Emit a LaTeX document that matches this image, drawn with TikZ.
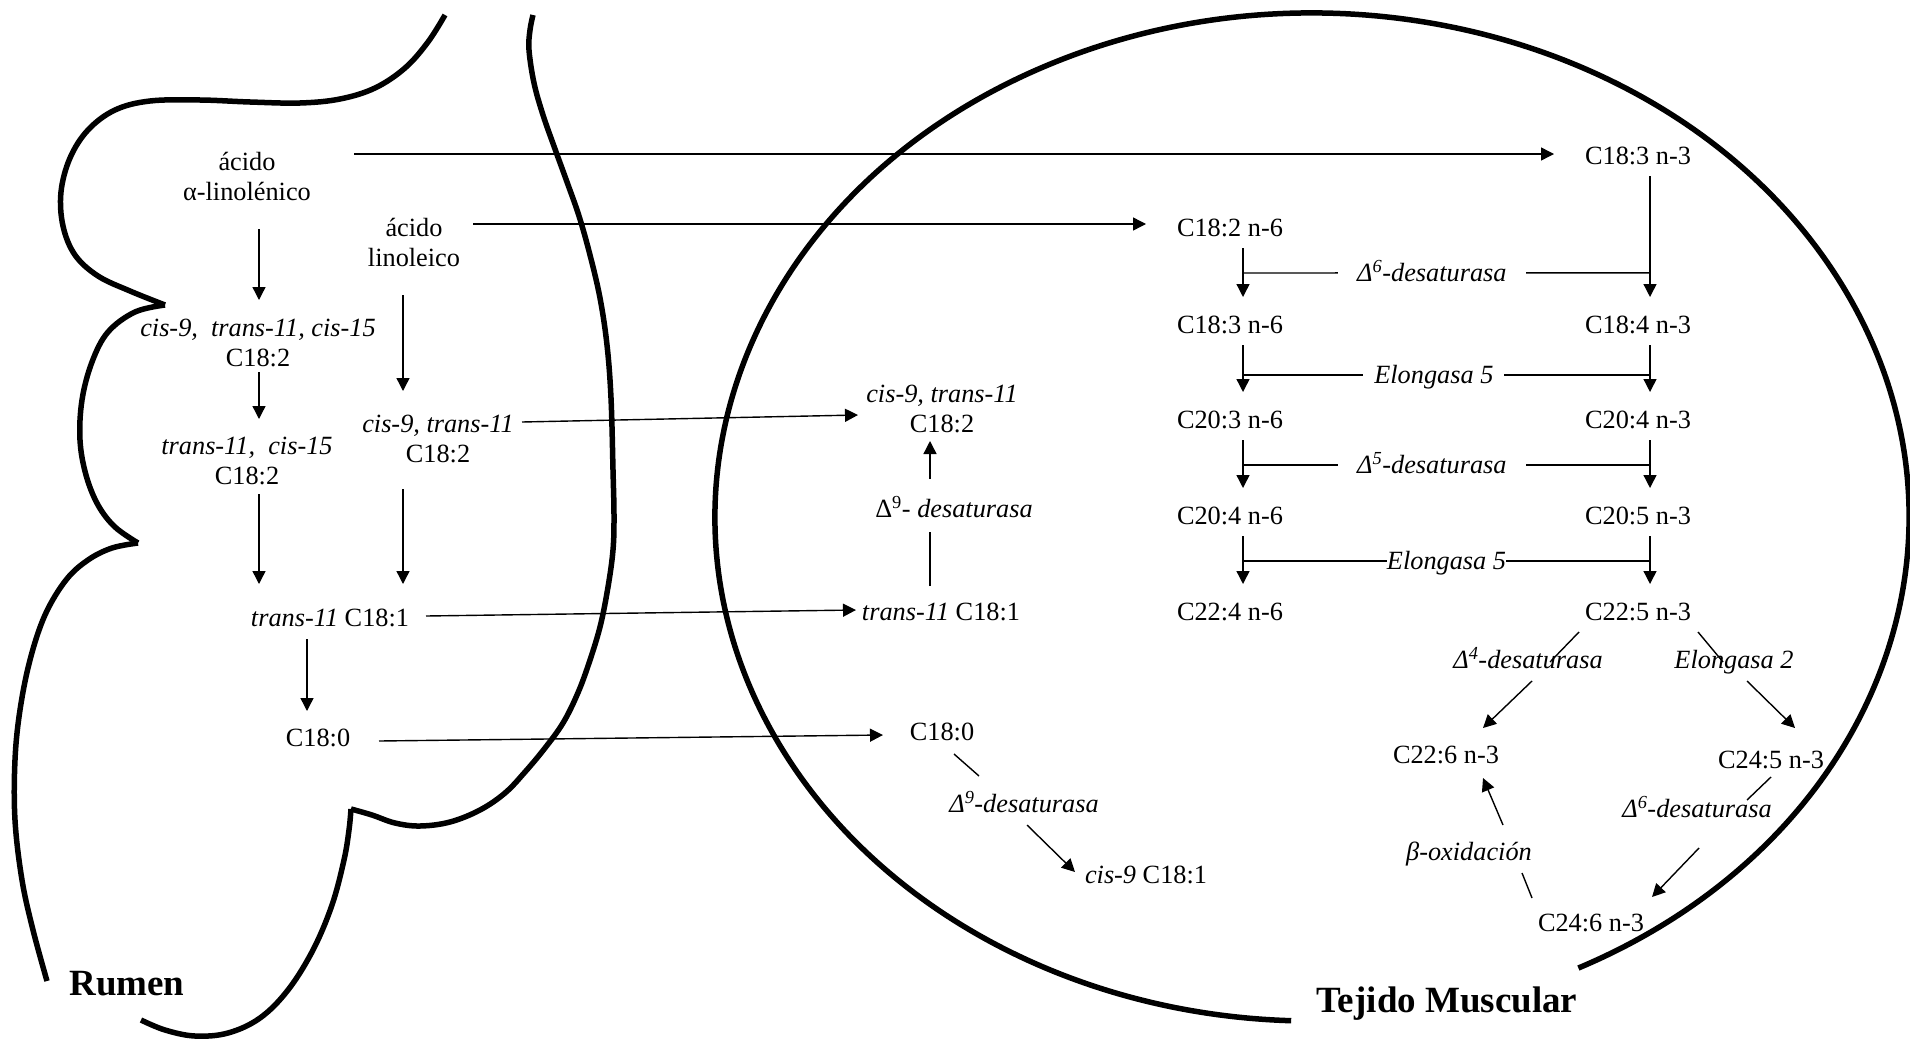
\documentclass[tikz,border=0pt]{standalone}
\usepackage{fontspec}
\setmainfont{Liberation Serif}
\usetikzlibrary{arrows.meta}
\newcommand\fs{\fontsize{26.3}{30}\selectfont}
\newcommand\fsb{\fontsize{37}{40}\selectfont\bfseries}
\begin{document}
\begin{tikzpicture}[x=1pt,y=-1pt,
  txt/.style={inner sep=0pt,outer sep=0pt,font=\fs,text height=20pt,text depth=3pt},
  two/.style={inner sep=0pt,outer sep=0pt,font=\fs,align=center},
  lbl/.style={txt,font=\fs\itshape},
  big/.style={inner sep=0pt,outer sep=0pt,font=\fsb},
  arr/.style={line width=1.4pt,-{Triangle[length=13pt,width=13pt]}},
  ln/.style={line width=1.4pt},
  outline/.style={line width=5.5pt,line join=round}]

\useasboundingbox (0,0) rectangle (1910,1041);

% ---------- Rumen outline ----------
\draw[outline] plot[smooth,tension=0.6] coordinates {(445,15) (428,42) (405,68) (375,88) (340,99) (300,103) (250,102) (200,100) (150,101) (115,110) (88,130) (70,158) (61,192) (63,226) (75,255) (98,276) (130,291) (165,305)};
\draw[outline] plot[smooth,tension=0.6] coordinates {(165,305) (135,312) (108,332) (92,362) (82,400) (80,440) (86,475) (98,505) (115,527) (138,543)};
\draw[outline] plot[smooth,tension=0.6] coordinates {(138,543) (112,548) (88,560) (66,580) (45,615) (30,660) (20,710) (15,760) (15,820) (22,880) (33,930) (47,981)};
\draw[outline] plot[smooth,tension=0.6] coordinates {(141,1020) (165,1030) (195,1036) (228,1033) (260,1018) (288,990) (313,950) (332,905) (344,860) (349,830) (351,809)};
\draw[outline] plot[smooth,tension=0.6] coordinates {(351,809) (372,815) (395,823) (420,826) (450,822) (480,810) (505,793) (525,772) (545,748) (563,723) (577,695) (588,666) (600,627) (608,587) (613,550) (614,516) (613,470) (611,398) (607,345) (600,298) (590,255) (579,216) (567,182) (555,149) (543,115) (534,83) (529,50) (530,30) (533,15)};

% ---------- Muscle ellipse ----------
\draw[outline] (1312,517) ++(-63.5:597pt and 504pt) arc[start angle=-63.5,end angle=268,x radius=597pt,y radius=504pt];

% ---------- Rumen nodes ----------
\node[two] (alin) at (247,176) {ácido\\α-linolénico};
\node[two] (lin) at (414,242) {ácido\\linoleico};
\node[two] (c1) at (258,343) {\textit{cis-9,\ \ trans-11, cis-15}\\C18:2};
\node[two] (c2) at (247,461) {\textit{trans-11,\ \ cis-15}\\C18:2};
\node[two] (c3) at (438,439) {\textit{cis-9, trans-11}\\C18:2};
\node[txt] (t11) at (330,618) {\textit{trans-11} C18:1};
\node[txt] (s0) at (318,738) {C18:0};
\node[big] (rumen) at (127,984) {Rumen};

% ---------- Muscle nodes ----------
\node[txt] (c183n3) at (1638,156) {C18:3 n-3};
\node[txt] (c182n6) at (1230,228) {C18:2 n-6};
\node[txt] (c183n6) at (1230,325) {C18:3 n-6};
\node[txt] (c184n3) at (1638,325) {C18:4 n-3};
\node[txt] (c203n6) at (1230,420) {C20:3 n-6};
\node[txt] (c204n3) at (1638,420) {C20:4 n-3};
\node[txt] (c204n6) at (1230,516) {C20:4 n-6};
\node[txt] (c205n3) at (1638,516) {C20:5 n-3};
\node[txt] (c224n6) at (1230,612) {C22:4 n-6};
\node[txt] (c225n3) at (1638,612) {C22:5 n-3};
\node[two] (cla) at (942,409) {\textit{cis-9, trans-11}\\C18:2};
\node[txt] (d9a) at (954,509) {Δ\textsuperscript{9}- \textit{desaturasa}};
\node[txt] (t11m) at (941,612) {\textit{trans-11} C18:1};
\node[txt] (s0m) at (942,732) {C18:0};
\node[lbl] (d9b) at (1024,804) {Δ\textsuperscript{9}-desaturasa};
\node[txt] (c9) at (1146,875) {\textit{cis-9} C18:1};
\node[lbl] (d4) at (1528,660) {Δ\textsuperscript{4}-desaturasa};
\node[lbl] (el2) at (1734,660) {Elongasa 2};
\node[txt] (c226) at (1446,755) {C22:6 n-3};
\node[txt] (c245) at (1771,760) {C24:5 n-3};
\node[lbl] (d6b) at (1697,809) {Δ\textsuperscript{6}-desaturasa};
\node[txt] (c246) at (1591,923) {C24:6 n-3};
\node[lbl] (box) at (1469,852) {β-oxidación};
\node[big] (tejido) at (1447,1004) {Tejido Muscular};

% ---------- Rumen connectors ----------
\draw[arr] ([shift={(107,-22)}]alin.center) -- ([shift={(-84,-2)}]c183n3.center);
\draw[arr] ([shift={(59,-18)}]lin.center) -- ([shift={(-84,-4)}]c182n6.center);
\draw[arr] ([shift={(12,53)}]alin.center) -- ([shift={(1,-43)}]c1.center);
\draw[arr] ([shift={(1,29)}]c1.center) -- ([shift={(12,-42)}]c2.center);
\draw[arr] ([shift={(12,33)}]c2.center) -- ([shift={(-71,-34)}]t11.center);
\draw[arr] ([shift={(-11,53)}]lin.center) -- ([shift={(-35,-48)}]c3.center);
\draw[arr] ([shift={(-35,50)}]c3.center) -- ([shift={(73,-34)}]t11.center);
\draw[arr] ([shift={(84,-17)}]c3.center) -- ([shift={(-84,6)}]cla.center);
\draw[arr] ([shift={(96,-2)}]t11.center) -- ([shift={(-85,-2)}]t11m.center);
\draw[arr] ([shift={(-23,21)}]t11.center) -- ([shift={(-11,-27)}]s0.center);
\draw[arr] ([shift={(61,3)}]s0.center) -- ([shift={(-59,3)}]s0m.center);

% ---------- middle connectors ----------
\draw[ln] ([shift={(-11,-26)}]t11m.center) -- ([shift={(-24,23)}]d9a.center);
\draw[arr] ([shift={(-24,-30)}]d9a.center) -- ([shift={(-12,32)}]cla.center);
\draw[ln] ([shift={(12,22)}]s0m.center) -- ([shift={(-45,-28)}]d9b.center);
\draw[arr] ([shift={(3,21)}]d9b.center) -- ([shift={(-71,-3)}]c9.center);

% ---------- ladder ----------
\draw[arr] ([shift={(13,20)}]c182n6.center) -- coordinate[pos=0.51] (h1l) ([shift={(13,-28)}]c183n6.center);
\draw[arr] ([shift={(12,20)}]c183n3.center) -- coordinate[pos=0.80] (h1r) ([shift={(12,-28)}]c184n3.center);
\draw[ln] (h1l) -- node[lbl,fill=white,inner xsep=19pt,pos=0.464] (d6a) {Δ\textsuperscript{6}-desaturasa} (h1r);

\draw[arr] ([shift={(13,20)}]c183n6.center) -- coordinate[pos=0.64] (h2l) ([shift={(13,-28)}]c203n6.center);
\draw[arr] ([shift={(12,20)}]c184n3.center) -- coordinate[pos=0.64] (h2r) ([shift={(12,-28)}]c204n3.center);
\draw[ln] (h2l) -- node[lbl,fill=white,inner xsep=11pt,pos=0.469] (el5a) {Elongasa 5} (h2r);

\draw[arr] ([shift={(13,20)}]c203n6.center) -- coordinate[pos=0.52] (h3l) ([shift={(13,-28)}]c204n6.center);
\draw[arr] ([shift={(12,20)}]c204n3.center) -- coordinate[pos=0.52] (h3r) ([shift={(12,-28)}]c205n3.center);
\draw[ln] (h3l) -- node[lbl,fill=white,inner xsep=19pt,pos=0.464] (d5) {Δ\textsuperscript{5}-desaturasa} (h3r);

\draw[arr] ([shift={(13,20)}]c204n6.center) -- coordinate[pos=0.52] (h4l) ([shift={(13,-28)}]c224n6.center);
\draw[arr] ([shift={(12,20)}]c205n3.center) -- coordinate[pos=0.52] (h4r) ([shift={(12,-28)}]c225n3.center);
\draw[ln] (h4l) -- node[lbl,fill=white,inner xsep=0pt,pos=0.5] (el5b) {Elongasa 5} (h4r);

% ---------- lower right cycle ----------
\draw[ln] ([shift={(-59,20)}]c225n3.center) -- ([shift={(22,2)}]d4.center);
\draw[arr] ([shift={(4,21)}]d4.center) -- ([shift={(37,-27)}]c226.center);
\draw[ln] ([shift={(60,20)}]c225n3.center) -- ([shift={(-11,2)}]el2.center);
\draw[arr] ([shift={(13,21)}]el2.center) -- ([shift={(24,-32)}]c245.center);
\draw[ln] ([shift={(0,17)}]c245.center) -- ([shift={(50,-9)}]d6b.center);
\draw[arr] ([shift={(2,39)}]d6b.center) -- ([shift={(61,-26)}]c246.center);
\draw[ln] ([shift={(-59,-25)}]c246.center) -- ([shift={(53,21)}]box.center);
\draw[arr] ([shift={(34,-27)}]box.center) -- ([shift={(37,23)}]c226.center);
\end{tikzpicture}
\end{document}
